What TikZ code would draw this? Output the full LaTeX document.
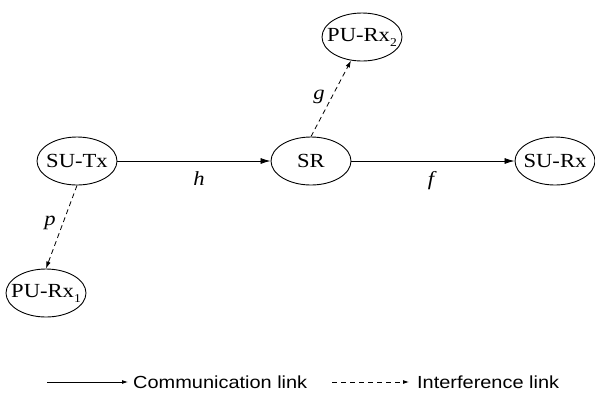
\documentclass[tikz,border=0pt]{standalone}
\usepackage{fontspec}
\usetikzlibrary{shapes.geometric,arrows.meta}
\setmainfont{Liberation Serif}[FakeStretch=1.13]
\newfontfamily\legendfont{Liberation Sans}[FakeStretch=1.14]
% lowered index after a station name
\newcommand{\stidx}[1]{\raisebox{-5pt}{\fontsize{12}{12}\selectfont #1}}
\tikzset{
  station/.style={ellipse, draw, line width=0.9pt, inner sep=0pt,
    minimum width=80pt, minimum height=48pt,
    font=\fontsize{20}{20}\selectfont},
  comm/.style={line width=0.8pt, -{Latex[length=10pt,width=6pt]}},
  interf/.style={line width=0.8pt, dash pattern=on 5pt off 3.5pt,
    -{Latex[length=7pt,width=4.5pt]}},
  chan/.style={font=\fontsize{20}{20}\selectfont\itshape, inner sep=0pt},
  legtext/.style={font=\legendfont\fontsize{17.5}{17.5}\selectfont,
    anchor=west, inner sep=0pt},
  legcomm/.style={line width=0.8pt, shorten >=5pt,
    -{Latex[length=6pt,width=4pt]}},
  leginterf/.style={line width=0.8pt, dash pattern=on 5pt off 4pt,
    shorten >=8pt, -{Latex[length=6pt,width=4pt]}},
}
\begin{document}
\begin{tikzpicture}[x=1pt, y=-1pt]
  \useasboundingbox (0,0) rectangle (595,392);

  % stations
  \node[station] (sutx) at (77,161)  {\makebox[0pt]{SU-Tx}};
  \node[station] (sr)   at (311,161) {\makebox[0pt]{SR}};
  \node[station] (surx) at (555,161) {\makebox[0pt]{SU-Rx}};
  \node[station] (pu2)  at (362,37)  {\makebox[0pt]{PU-Rx\stidx{2}}};
  \node[station] (pu1)  at (46,293)  {\makebox[0pt]{PU-Rx\stidx{1}}};

  % communication links
  \draw[comm] (sutx) -- (sr);
  \draw[comm] (sr) -- (surx);

  % interference links
  \draw[interf] (sr.north) -- (pu2.245);
  \draw[interf] (sutx.south) -- (pu1.north);

  % channel gains
  \node[chan] (h) at (199,179) {h};
  \node[chan] (f) at (431,181) {f};
  \node[chan] (g) at (319,97)  {g};
  \node[chan] (p) at (50,223)  {p};

  % legend
  \coordinate (lc) at (47,382);
  \node[legtext] (lcomm) at (133,382) {Communication link};
  \draw[legcomm] (lc) -- (lcomm.west);
  \coordinate (li) at (332,382);
  \node[legtext] (linterf) at (417,382) {Interference link};
  \draw[leginterf] (li) -- (linterf.west);
\end{tikzpicture}
\end{document}
